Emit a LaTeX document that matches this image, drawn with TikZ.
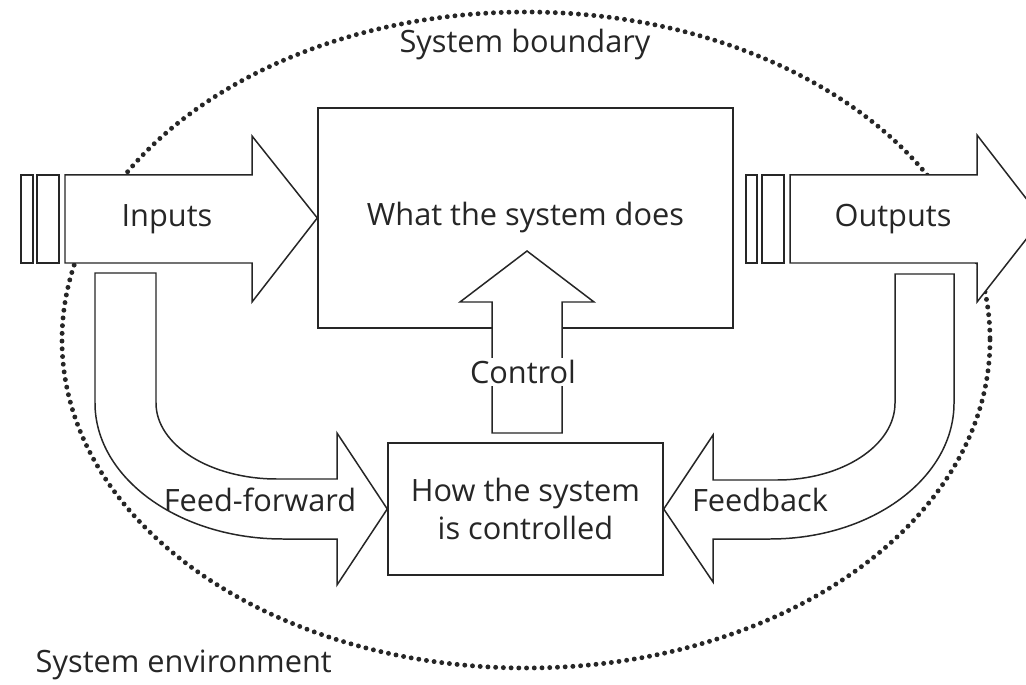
\documentclass[tikz,border=0pt]{standalone}
\usepackage{fontspec}
\setmainfont{Open Sans}
\usepackage{tikz}

\begin{document}
\begin{tikzpicture}[x=0.02cm,y=-0.02cm,line width=0.85pt,color=black!85,node font=\fontsize{17.5}{22}\selectfont]
	\tikzstyle{sysbox}=[draw,fill=white,inner sep=0pt,align=center]
	\tikzstyle{blockarrow}=[draw,fill=white,line join=miter]
	\tikzstyle{bar}=[draw,fill=white]
	\tikzstyle{boundary}=[dash pattern=on 0pt off 4.4pt,line cap=round,line width=2.8pt]
	\useasboundingbox (0,0) rectangle (1026,685);
	\clip (0,0) rectangle (1026,685);
	
	\draw[boundary] (526,340) ellipse [x radius=464,y radius=328];
	
	\node[sysbox,minimum width=8.3cm,minimum height=4.4cm] (does) at (525.5,218) {What the system does};
	\node[sysbox,minimum width=5.5cm,minimum height=2.64cm] (how)  at (525.5,509) {How the system\\is controlled};
	
	\draw[bar] (21,175) rectangle (33,263);
	\draw[bar] (37,175) rectangle (59,263);
	\draw[blockarrow] (65,175) -- (252,175) -- (252,136) -- (does.west) -- (252,302) -- (252,263) -- (65,263) -- cycle;
	\draw[bar] (746,175) rectangle (757,263);
	\draw[bar] (762,175) rectangle (784,263);
	\draw[blockarrow] (790,175) -- (977,175) -- (977,135) -- (1042,219) -- (977,302) -- (977,263) -- (790,263) -- cycle;
	
	\draw[blockarrow] (95,273) -- (156,273) -- (156,403) arc[start angle=180,end angle=90,x radius=121,y radius=76]
		-- (337,479) -- (337,433) -- (how.west) -- (337,585) -- (337,539) -- (283,539)
		arc[start angle=90,end angle=180,x radius=188,y radius=136] -- cycle;
	\draw[blockarrow] (954,274) -- (895,274) -- (895,403) arc[start angle=0,end angle=90,x radius=118,y radius=77]
		-- (713,480) -- (713,435) -- (how.east) -- (713,582) -- (713,539) -- (770,539)
		arc[start angle=90,end angle=0,x radius=184,y radius=136] -- cycle;
	\draw[blockarrow] (492,433) -- (492,302) -- (460,302) -- (527,251) -- (594,302) -- (562,302) -- (562,433) -- cycle;
	
	\node[fill=white,inner xsep=1pt,inner ysep=1pt] (control) at (523,372) {Control};
	\node (inputs)   at (167,219) {Inputs};
	\node (outputs)  at (893,219) {Outputs};
	\node (feedfwd)  at (260,500) {Feed-forward};
	\node (feedback) at (760,500) {Feedback};
	\node (bound)    at (525,45)  {System boundary};
	\node[anchor=west,inner sep=0pt] (environ) at (35,665) {System environment};
\end{tikzpicture}
\end{document}
